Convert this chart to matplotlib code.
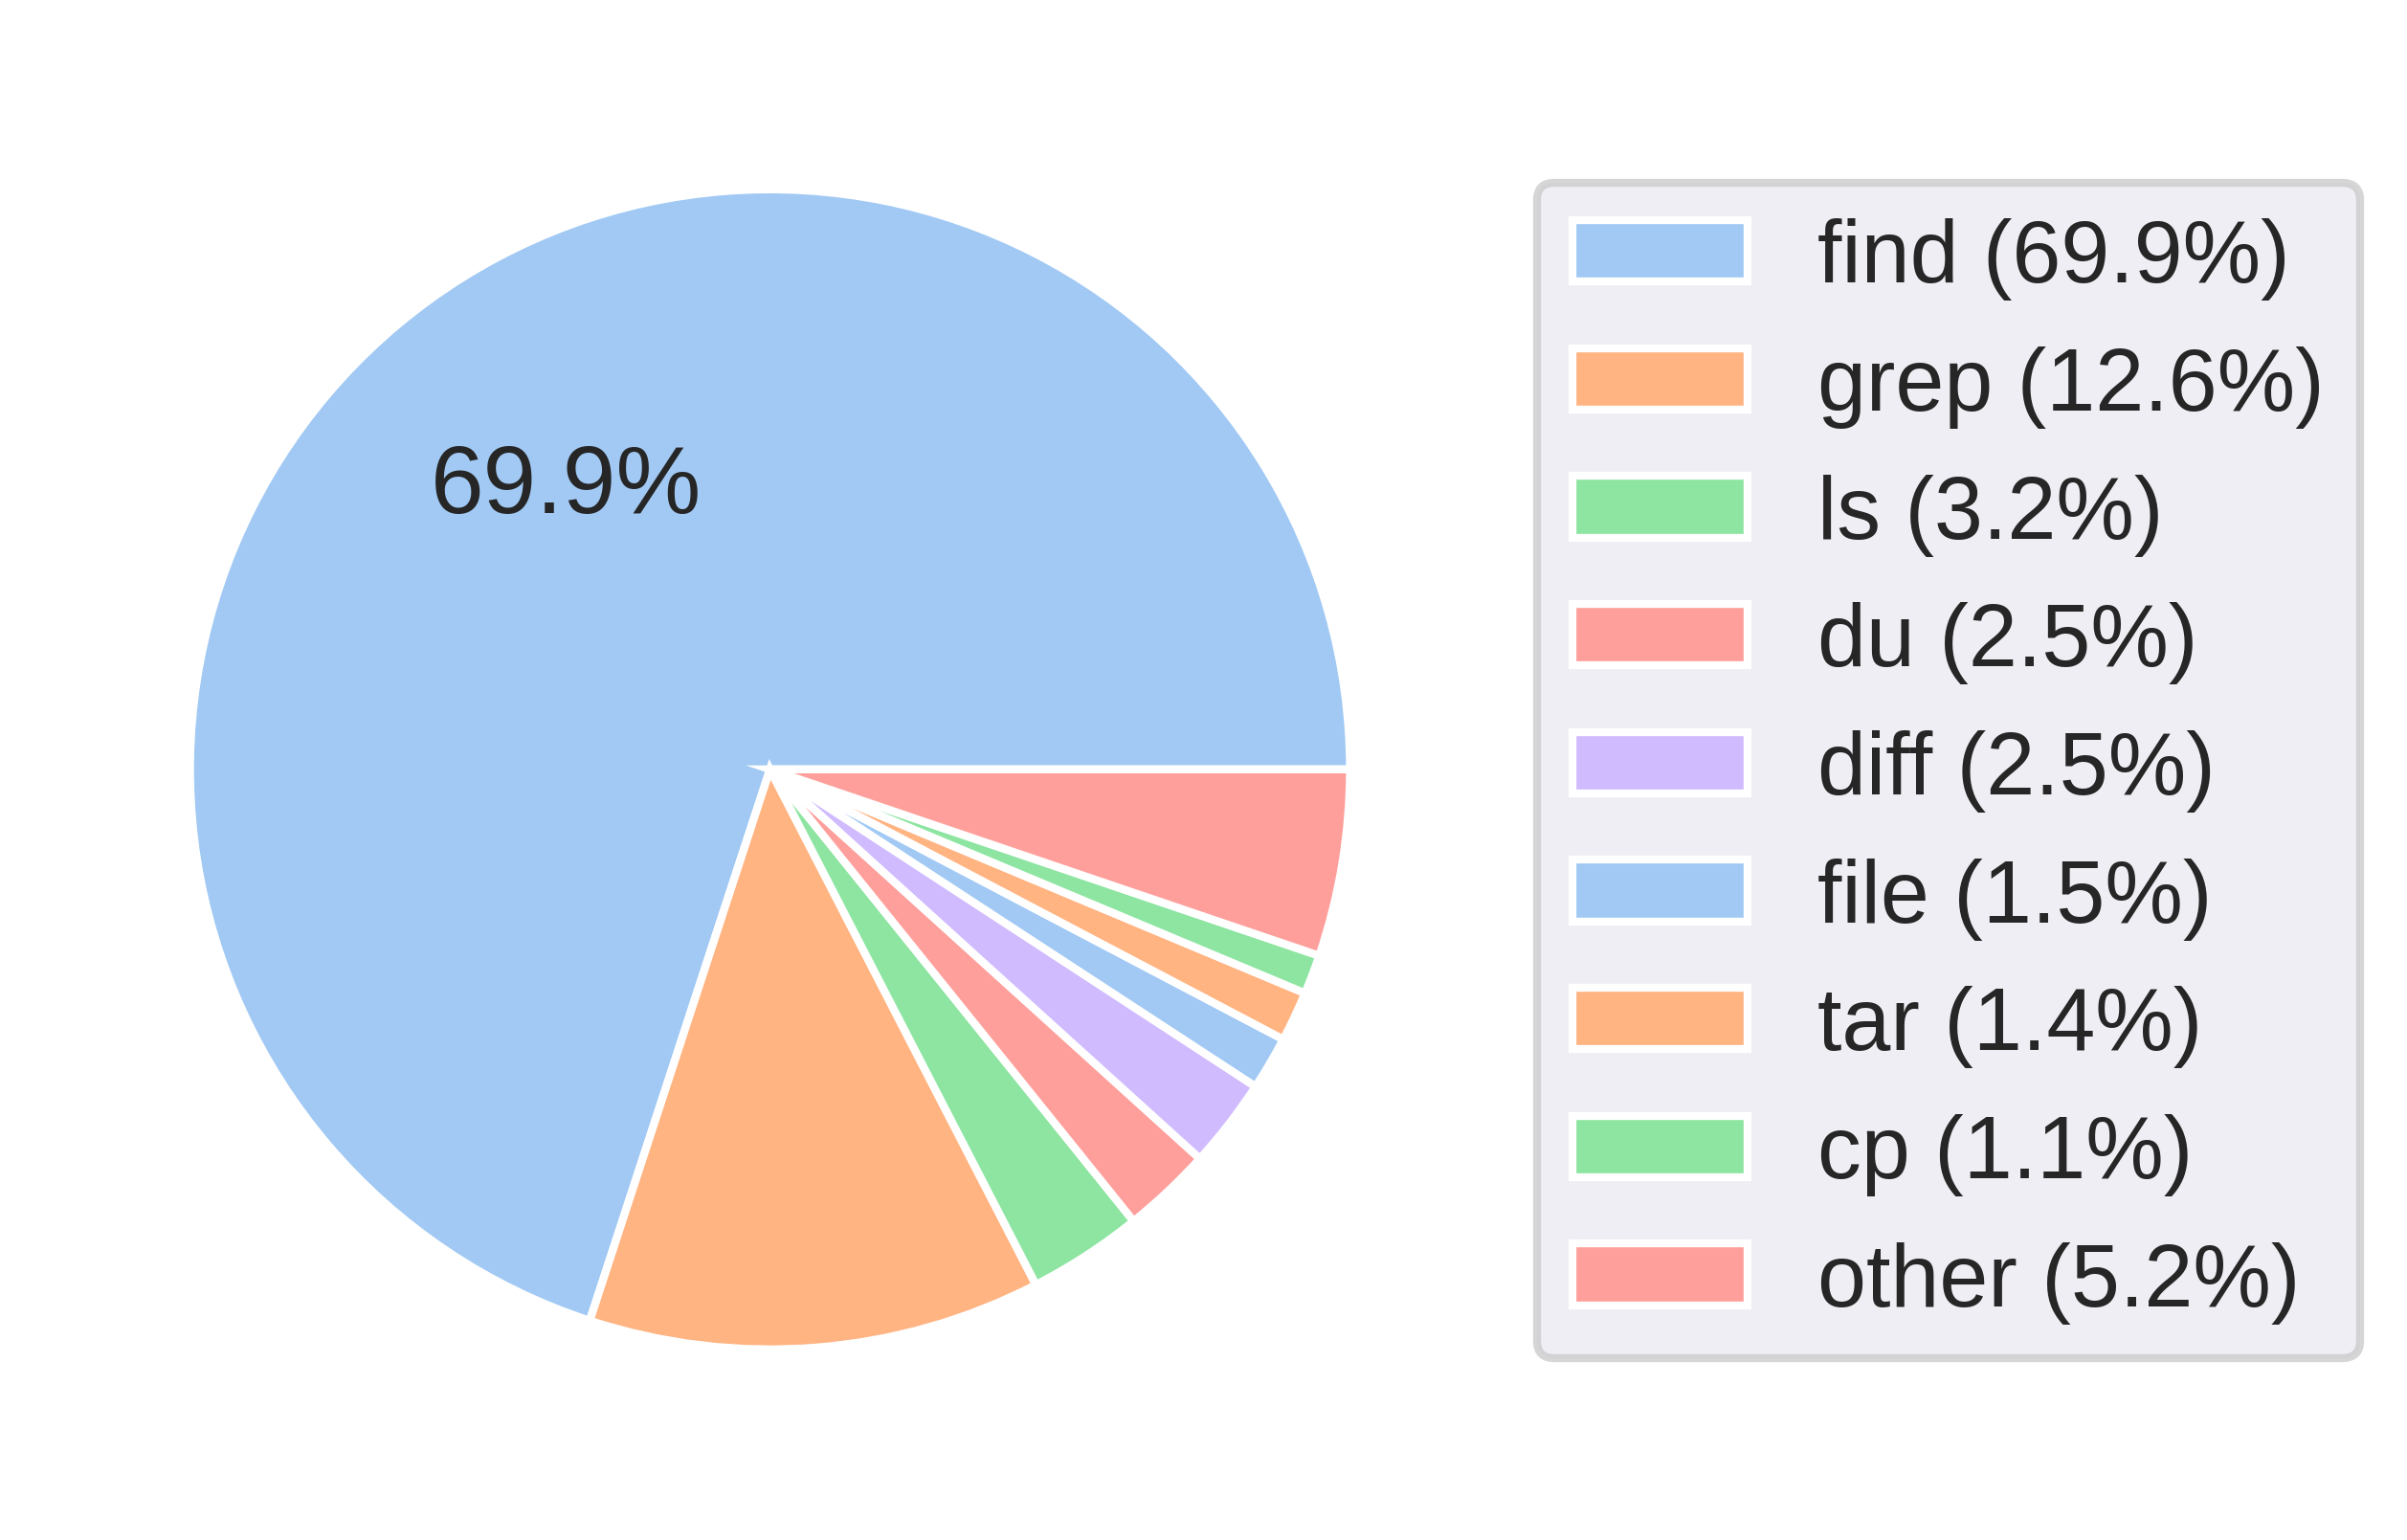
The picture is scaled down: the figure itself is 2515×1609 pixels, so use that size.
import matplotlib
matplotlib.use("Agg")
import matplotlib.pyplot as plt
import seaborn as sns

commands = ["find", "grep", "ls", "du", "diff", "file", "tar", "cp", "other"]
shares = [69.9, 12.6, 3.2, 2.5, 2.5, 1.5, 1.4, 1.1, 5.2]

sns.set_theme(style="darkgrid", context="poster")
plt.rcParams["font.family"] = ["Liberation Sans", "DejaVu Sans"]

base = sns.color_palette("pastel", 5)
colors = [base[i % 5] for i in range(len(shares))]
total = sum(shares)

fig = plt.figure(figsize=(2515 / 300, 1610 / 300), dpi=300)
ax = fig.add_axes([0.0187, 0.0296, 0.6024, 0.941])

wedges, texts, autotexts = ax.pie(
    shares,
    colors=colors,
    autopct=lambda p: f"{p * total / 100:.1f}%" if p > 50 else "",
    startangle=0,
    textprops={"fontsize": 24, "color": "#262626"},
)
ax.set_aspect("equal")

labels = [f"{c} ({s:.1f}%)" for c, s in zip(commands, shares)]
fig.legend(
    wedges,
    labels,
    loc="center left",
    bbox_to_anchor=(0.6386, 0.4994),
    bbox_transform=fig.transFigure,
    borderaxespad=0,
    fontsize=22,
    labelspacing=0.52,
)

fig.savefig("out.png", dpi=300)
